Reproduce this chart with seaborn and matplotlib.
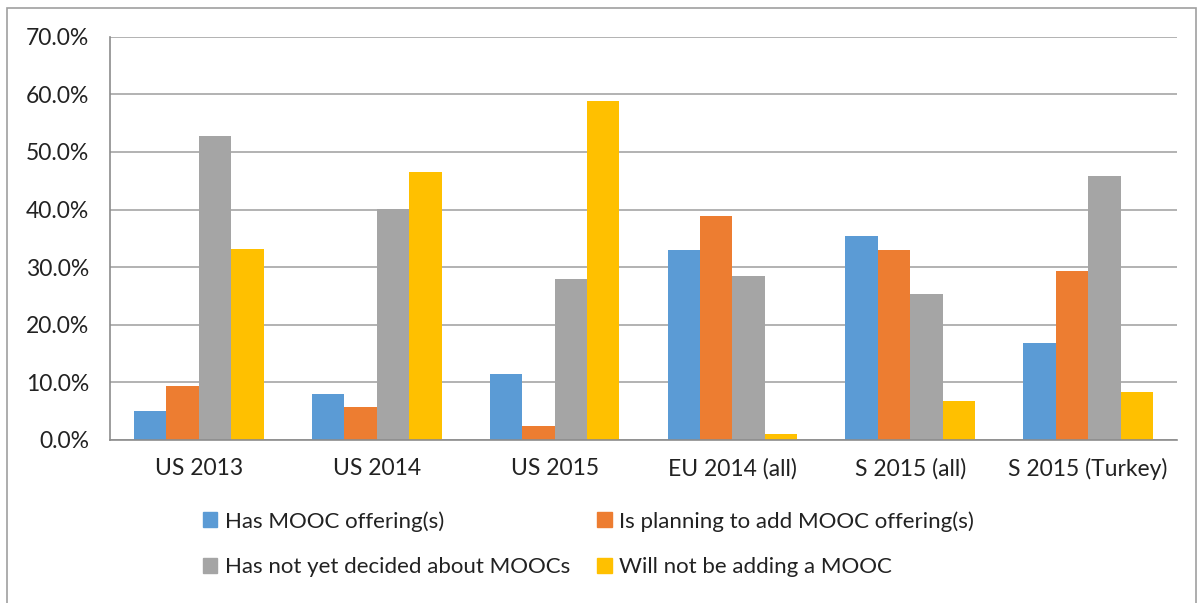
import numpy as np
import pandas as pd
import matplotlib.pyplot as plt
import seaborn as sns
from matplotlib.patches import Rectangle
from matplotlib.ticker import FuncFormatter, FixedLocator

# survey groups and answer categories
surveys = ["US 2013", "US 2014", "US 2015", "EU 2014 (all)", "S 2015 (all)", "S 2015 (Turkey)"]
answers = ["Has MOOC offering(s)", "Is planning to add MOOC offering(s)",
           "Has not yet decided about MOOCs", "Will not be adding a MOOC"]

# percentages
has_mooc = [5.1, 8.0, 11.4, 33.0, 35.4, 16.8]
planning = [9.4, 5.7, 2.4, 38.9, 32.9, 29.3]
undecided = [52.8, 40.1, 27.9, 28.4, 25.3, 45.9]
not_adding = [33.1, 46.6, 58.8, 1.1, 6.8, 8.4]

colors = ["#5B9BD5", "#ED7D31", "#A5A5A5", "#FFC000"]

df = pd.DataFrame({
    "survey": surveys * 4,
    "answer": np.repeat(answers, len(surveys)),
    "pct": has_mooc + planning + undecided + not_adding,
})

sns.set_theme(style="white")
plt.rcParams["font.family"] = ["Lato", "DejaVu Sans"]

fig = plt.figure(figsize=(12.03, 6.03), dpi=100)
ax = fig.add_axes([110 / 1203, 1 - 440 / 603, 1067 / 1203, 403.3 / 603])

sns.barplot(data=df, x="survey", y="pct", hue="answer", order=surveys,
            hue_order=answers, palette=colors, width=0.73, saturation=1,
            edgecolor="none", linewidth=0, ax=ax, legend=False)

ax.set_ylim(0, 70)
ax.set_xlim(-0.5, len(surveys) - 0.5)
ax.set_yticks(np.arange(0, 71, 10))
ax.yaxis.set_major_formatter(FuncFormatter(lambda v, p: f"{v:.1f}%"))
ax.yaxis.grid(True, color="#a6a6a6", linewidth=1.2)
ax.set_axisbelow(True)
ax.set_xlabel("")
ax.set_ylabel("")

for s in ["top", "right"]:
    ax.spines[s].set_visible(False)
for s in ["left", "bottom"]:
    ax.spines[s].set_color("#8c8c8c")
    ax.spines[s].set_linewidth(1.2)

ax.tick_params(axis="x", which="major", length=0, pad=13, labelsize=16.5)
ax.tick_params(axis="y", length=6, width=1.2, color="#a6a6a6", labelsize=16.5, pad=9)
ax.xaxis.set_minor_locator(FixedLocator(np.arange(-0.5, len(surveys), 1)))
ax.tick_params(axis="x", which="minor", length=6, width=1.2, color="#8c8c8c", direction="out")
for lbl in ax.get_yticklabels() + ax.get_xticklabels():
    lbl.set_color("#222222")

# legend reads row by row in the reference, matplotlib fills by column
order = [0, 2, 1, 3]
handles = [Rectangle((0, 0), 1, 1, color=colors[i]) for i in order]
labels = [answers[i] for i in order]
leg = fig.legend(handles, labels, ncol=2, loc="upper left",
                 bbox_to_anchor=(183 / 1203, 1 - 491 / 603), frameon=False,
                 fontsize=16, handlelength=0.65, handleheight=0.65,
                 handletextpad=0.35, columnspacing=1.2, labelspacing=1.15)
for t in leg.get_texts():
    t.set_color("#222222")

# outer chart border
fig.add_artist(Rectangle((7 / 1203, -0.01), 1189 / 1203, 1 - 8 / 603 + 0.01,
                         transform=fig.transFigure, fill=False,
                         edgecolor="#a0a0a0", linewidth=1.2))

fig.savefig("out.png", dpi=100)
